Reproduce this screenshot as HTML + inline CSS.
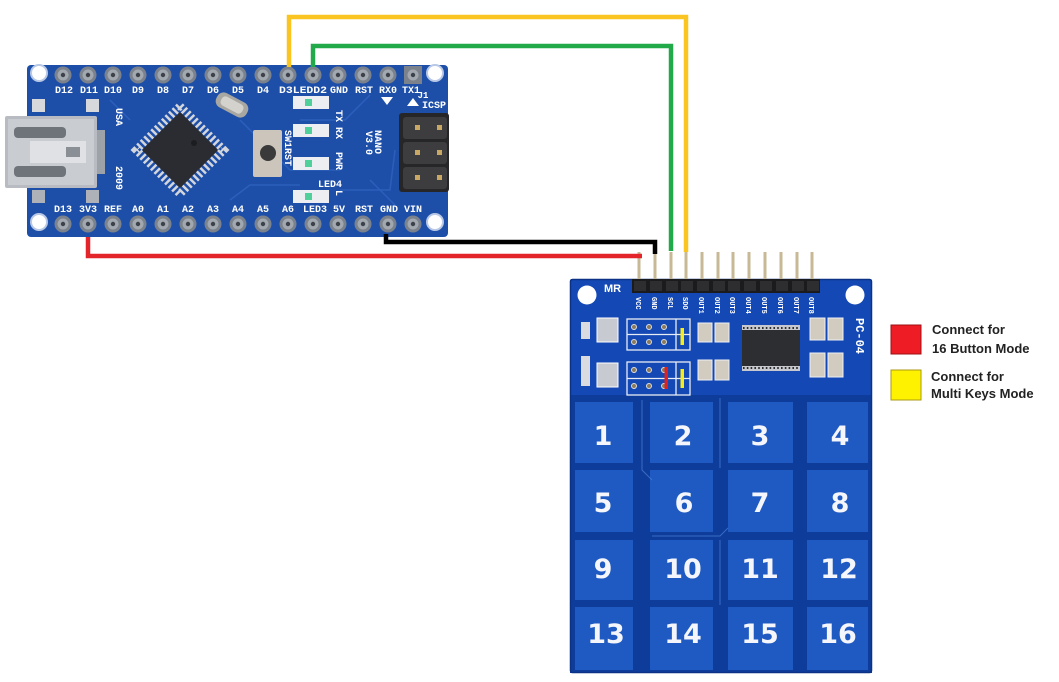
<!DOCTYPE html>
<html><head><meta charset="utf-8"><style>
html,body{margin:0;padding:0;background:#fff;}
svg{display:block;}
.w{fill:#fff;font-family:"Liberation Mono","DejaVu Sans Mono",monospace;font-weight:bold;}
.n{fill:#f4f6fb;font-family:"DejaVu Sans",sans-serif;font-weight:bold;font-size:27px;text-anchor:middle;}
.lg{fill:#222;font-family:"Liberation Sans",sans-serif;font-weight:bold;font-size:13px;}
</style></head><body>
<svg width="1059" height="682" viewBox="0 0 1059 682" xmlns="http://www.w3.org/2000/svg">
<rect width="1059" height="682" fill="#fff"/>

<!-- ================= ARDUINO NANO ================= -->
<rect x="27" y="65" width="421" height="172" rx="4" fill="#1e4fa8"/>
<g stroke="#2f64c0" stroke-width="1.5" fill="none" opacity="0.8">
  <path d="M240 120 L290 170 L340 170"/>
  <path d="M300 120 L345 120 L370 95"/>
  <path d="M340 190 L390 190 L395 150"/>
  <path d="M230 200 L250 185 L300 185"/>
  <path d="M110 100 L130 120"/>
  <path d="M370 180 L395 205"/>
</g>
<!-- USB pads -->
<rect x="32" y="99" width="13" height="13" fill="#d6d8dc"/>
<rect x="86" y="99" width="13" height="13" fill="#d6d8dc"/>
<rect x="32" y="190" width="13" height="13" fill="#aeb2b8"/>
<rect x="86" y="190" width="13" height="13" fill="#aeb2b8"/>
<!-- USB connector -->
<rect x="5" y="116" width="92" height="72" rx="2" fill="#b8bbc1"/>
<rect x="8" y="119" width="86" height="66" fill="#c9ccd1"/>
<rect x="14" y="127" width="52" height="11" rx="4" fill="#6f737a"/>
<rect x="14" y="166" width="52" height="11" rx="4" fill="#6f737a"/>
<rect x="30" y="141" width="56" height="22" fill="#dfe1e4"/>
<rect x="66" y="147" width="14" height="10" fill="#8a8e95"/>
<rect x="97" y="130" width="8" height="44" fill="#9da1a8"/>
<!-- chip -->
<g transform="translate(180,150) rotate(45)">
  <rect x="-31" y="-31" width="62" height="62" fill="none" stroke="#d3d6dc" stroke-width="8" stroke-dasharray="2.5 2.5"/>
  <rect x="-27" y="-27" width="54" height="54" rx="2" fill="#2a2c31"/>
</g>
<circle cx="194" cy="143" r="3" fill="#1c1d20"/>
<!-- crystal -->
<g transform="translate(232,105) rotate(28)">
  <rect x="-17" y="-8" width="34" height="16" rx="7" fill="#a9a7a1"/>
  <rect x="-12" y="-5" width="24" height="10" rx="4" fill="#d4d2cc"/>
</g>
<!-- reset button -->
<rect x="253" y="130" width="29" height="47" rx="2" fill="#cbc5bb"/>
<circle cx="268" cy="153" r="8" fill="#3a3a3a"/>
<!-- LEDs -->
<g fill="#eceef2">
  <rect x="293" y="96" width="36" height="13"/>
  <rect x="293" y="124" width="36" height="13"/>
  <rect x="293" y="157" width="36" height="13"/>
  <rect x="293" y="190" width="36" height="13"/>
</g>
<g fill="#4fcf9a">
  <rect x="305" y="99" width="7" height="7"/>
  <rect x="305" y="127" width="7" height="7"/>
  <rect x="305" y="160" width="7" height="7"/>
  <rect x="305" y="193" width="7" height="7"/>
</g>
<!-- ICSP header -->
<rect x="399" y="113" width="50" height="79" rx="3" fill="#262628"/>
<g fill="#3d3d40">
  <rect x="403" y="117" width="44" height="22" rx="3"/>
  <rect x="403" y="142" width="44" height="22" rx="3"/>
  <rect x="403" y="167" width="44" height="22" rx="3"/>
</g>
<g fill="#c9a864">
  <rect x="415" y="125" width="5" height="5"/><rect x="437" y="125" width="5" height="5"/>
  <rect x="415" y="150" width="5" height="5"/><rect x="437" y="150" width="5" height="5"/>
  <rect x="415" y="175" width="5" height="5"/><rect x="437" y="175" width="5" height="5"/>
</g>
<!-- corner holes -->
<g fill="#fff" stroke="#b8c8e6" stroke-width="2">
  <circle cx="39" cy="73" r="8"/><circle cx="435" cy="73" r="8"/>
  <circle cx="39" cy="222" r="8"/><circle cx="435" cy="222" r="8"/>
</g>
<!-- pins -->
<g>
  <g fill="#7b828c">
    <circle cx="63" cy="75" r="8.5"/><circle cx="88" cy="75" r="8.5"/><circle cx="113" cy="75" r="8.5"/><circle cx="138" cy="75" r="8.5"/><circle cx="163" cy="75" r="8.5"/><circle cx="188" cy="75" r="8.5"/><circle cx="213" cy="75" r="8.5"/><circle cx="238" cy="75" r="8.5"/><circle cx="263" cy="75" r="8.5"/><circle cx="288" cy="75" r="8.5"/><circle cx="313" cy="75" r="8.5"/><circle cx="338" cy="75" r="8.5"/><circle cx="363" cy="75" r="8.5"/><circle cx="388" cy="75" r="8.5"/>
    <circle cx="63" cy="224" r="8.5"/><circle cx="88" cy="224" r="8.5"/><circle cx="113" cy="224" r="8.5"/><circle cx="138" cy="224" r="8.5"/><circle cx="163" cy="224" r="8.5"/><circle cx="188" cy="224" r="8.5"/><circle cx="213" cy="224" r="8.5"/><circle cx="238" cy="224" r="8.5"/><circle cx="263" cy="224" r="8.5"/><circle cx="288" cy="224" r="8.5"/><circle cx="313" cy="224" r="8.5"/><circle cx="338" cy="224" r="8.5"/><circle cx="363" cy="224" r="8.5"/><circle cx="388" cy="224" r="8.5"/><circle cx="413" cy="224" r="8.5"/>
  </g>
  <rect x="404" y="66" width="18" height="18" fill="#7b828c"/>
  <g fill="#a2a8b0">
    <circle cx="63" cy="75" r="5.5"/><circle cx="88" cy="75" r="5.5"/><circle cx="113" cy="75" r="5.5"/><circle cx="138" cy="75" r="5.5"/><circle cx="163" cy="75" r="5.5"/><circle cx="188" cy="75" r="5.5"/><circle cx="213" cy="75" r="5.5"/><circle cx="238" cy="75" r="5.5"/><circle cx="263" cy="75" r="5.5"/><circle cx="288" cy="75" r="5.5"/><circle cx="313" cy="75" r="5.5"/><circle cx="338" cy="75" r="5.5"/><circle cx="363" cy="75" r="5.5"/><circle cx="388" cy="75" r="5.5"/><circle cx="413" cy="75" r="5.5"/>
    <circle cx="63" cy="224" r="5.5"/><circle cx="88" cy="224" r="5.5"/><circle cx="113" cy="224" r="5.5"/><circle cx="138" cy="224" r="5.5"/><circle cx="163" cy="224" r="5.5"/><circle cx="188" cy="224" r="5.5"/><circle cx="213" cy="224" r="5.5"/><circle cx="238" cy="224" r="5.5"/><circle cx="263" cy="224" r="5.5"/><circle cx="288" cy="224" r="5.5"/><circle cx="313" cy="224" r="5.5"/><circle cx="338" cy="224" r="5.5"/><circle cx="363" cy="224" r="5.5"/><circle cx="388" cy="224" r="5.5"/><circle cx="413" cy="224" r="5.5"/>
  </g>
  <g fill="#3c414a">
    <circle cx="63" cy="75" r="2.2"/><circle cx="88" cy="75" r="2.2"/><circle cx="113" cy="75" r="2.2"/><circle cx="138" cy="75" r="2.2"/><circle cx="163" cy="75" r="2.2"/><circle cx="188" cy="75" r="2.2"/><circle cx="213" cy="75" r="2.2"/><circle cx="238" cy="75" r="2.2"/><circle cx="263" cy="75" r="2.2"/><circle cx="288" cy="75" r="2.2"/><circle cx="313" cy="75" r="2.2"/><circle cx="338" cy="75" r="2.2"/><circle cx="363" cy="75" r="2.2"/><circle cx="388" cy="75" r="2.2"/><circle cx="413" cy="75" r="2.2"/>
    <circle cx="63" cy="224" r="2.2"/><circle cx="88" cy="224" r="2.2"/><circle cx="113" cy="224" r="2.2"/><circle cx="138" cy="224" r="2.2"/><circle cx="163" cy="224" r="2.2"/><circle cx="188" cy="224" r="2.2"/><circle cx="213" cy="224" r="2.2"/><circle cx="238" cy="224" r="2.2"/><circle cx="263" cy="224" r="2.2"/><circle cx="288" cy="224" r="2.2"/><circle cx="313" cy="224" r="2.2"/><circle cx="338" cy="224" r="2.2"/><circle cx="363" cy="224" r="2.2"/><circle cx="388" cy="224" r="2.2"/><circle cx="413" cy="224" r="2.2"/>
  </g>
</g>
<!-- labels -->
<g class="w" font-size="10" text-anchor="middle">
  <text x="64" y="93">D12</text><text x="89" y="93">D11</text><text x="113" y="93">D10</text><text x="138" y="93">D9</text>
  <text x="163" y="93">D8</text><text x="188" y="93">D7</text><text x="213" y="93">D6</text><text x="238" y="93">D5</text>
  <text x="263" y="93">D4</text><text x="303" y="93" textLength="48" lengthAdjust="spacingAndGlyphs">D3LEDD2</text>
  <text x="339" y="93">GND</text><text x="364" y="93">RST</text><text x="388" y="93">RX0</text><text x="411" y="93">TX1</text>
  <text x="63" y="212">D13</text><text x="88" y="212">3V3</text><text x="113" y="212">REF</text><text x="138" y="212">A0</text>
  <text x="163" y="212">A1</text><text x="188" y="212">A2</text><text x="213" y="212">A3</text><text x="238" y="212">A4</text>
  <text x="263" y="212">A5</text><text x="288" y="212">A6</text><text x="315" y="212">LED3</text><text x="339" y="212">5V</text>
  <text x="364" y="212">RST</text><text x="389" y="212">GND</text><text x="413" y="212">VIN</text>
  <text x="330" y="187">LED4</text>
  <text x="423" y="98" font-size="9">J1</text>
  <text x="434" y="108">ICSP</text>
</g>
<path d="M381 97 L393 97 L387 105 Z" fill="#fff"/>
<path d="M407 106 L419 106 L413 98 Z" fill="#fff"/>
<g class="w" font-size="10">
  <text transform="translate(336,110) rotate(90)">TX</text>
  <text transform="translate(336,127) rotate(90)">RX</text>
  <text transform="translate(336,152) rotate(90)">PWR</text>
  <text transform="translate(336,190) rotate(90)">L</text>
  <text transform="translate(285,130) rotate(90)">SW1RST</text>
  <text transform="translate(375,130) rotate(90)">NANO</text>
  <text transform="translate(366,131) rotate(90)">V3.0</text>
  <text transform="translate(116,108) rotate(90)">USA</text>
  <text transform="translate(116,166) rotate(90)">2009</text>
</g>

<!-- ================= KEYPAD ================= -->
<rect x="570" y="279" width="302" height="394" rx="2" fill="#1449b5"/>
<rect x="570" y="395" width="302" height="278" fill="#0e3c9b"/>
<rect x="570.5" y="279.5" width="301" height="393" rx="2" fill="none" stroke="#0b3285" stroke-width="1.5"/>
<circle cx="587" cy="295" r="9.5" fill="#fff"/>
<circle cx="855" cy="295" r="9.5" fill="#fff"/>
<text x="604" y="292" fill="#fff" font-family="Liberation Sans,sans-serif" font-weight="bold" font-size="11">MR</text>
<!-- header -->
<g stroke="#c7b896" stroke-width="3">
  <line x1="639" y1="252" x2="639" y2="282"/><line x1="655" y1="252" x2="655" y2="282"/><line x1="671" y1="252" x2="671" y2="282"/><line x1="686" y1="252" x2="686" y2="282"/>
  <line x1="702" y1="252" x2="702" y2="282"/><line x1="718" y1="252" x2="718" y2="282"/><line x1="733" y1="252" x2="733" y2="282"/><line x1="749" y1="252" x2="749" y2="282"/>
  <line x1="765" y1="252" x2="765" y2="282"/><line x1="781" y1="252" x2="781" y2="282"/><line x1="797" y1="252" x2="797" y2="282"/><line x1="812" y1="252" x2="812" y2="282"/>
</g>
<rect x="632" y="279" width="188" height="14" fill="#1b1b1d"/>
<g fill="#2e2e31">
  <rect x="634" y="281" width="12" height="10"/><rect x="650" y="281" width="12" height="10"/><rect x="666" y="281" width="12" height="10"/><rect x="681" y="281" width="12" height="10"/>
  <rect x="697" y="281" width="12" height="10"/><rect x="713" y="281" width="12" height="10"/><rect x="728" y="281" width="12" height="10"/><rect x="744" y="281" width="12" height="10"/>
  <rect x="760" y="281" width="12" height="10"/><rect x="776" y="281" width="12" height="10"/><rect x="792" y="281" width="12" height="10"/><rect x="807" y="281" width="12" height="10"/>
</g>
<g class="w" font-size="7" font-family="Liberation Sans,sans-serif">
  <text transform="translate(636,297) rotate(90)">VCC</text>
  <text transform="translate(652,297) rotate(90)">GND</text>
  <text transform="translate(668,297) rotate(90)">SCL</text>
  <text transform="translate(683,297) rotate(90)">SDO</text>
  <text transform="translate(699,297) rotate(90)">OUT1</text>
  <text transform="translate(715,297) rotate(90)">OUT2</text>
  <text transform="translate(730,297) rotate(90)">OUT3</text>
  <text transform="translate(746,297) rotate(90)">OUT4</text>
  <text transform="translate(762,297) rotate(90)">OUT5</text>
  <text transform="translate(778,297) rotate(90)">OUT6</text>
  <text transform="translate(794,297) rotate(90)">OUT7</text>
  <text transform="translate(809,297) rotate(90)">OUT8</text>
  <text transform="translate(856,318) rotate(90)" font-size="12">PC-04</text>
</g>
<!-- left components -->
<rect x="581" y="322" width="9" height="17" fill="#d9dbe0"/>
<rect x="581" y="356" width="9" height="30" fill="#d9dbe0"/>
<rect x="597" y="318" width="21" height="24" fill="#c7cad0" stroke="#fff" stroke-width="1"/>
<rect x="597" y="363" width="21" height="24" fill="#c7cad0" stroke="#fff" stroke-width="1"/>
<!-- jumper blocks -->
<g fill="none" stroke="#e8ecf4" stroke-width="1.3">
  <rect x="627" y="319" width="63" height="31"/>
  <rect x="627" y="362" width="63" height="33"/>
  <line x1="627" y1="334.5" x2="690" y2="334.5"/>
  <line x1="627" y1="378.5" x2="690" y2="378.5"/>
  <line x1="676" y1="319" x2="676" y2="350"/>
  <line x1="676" y1="362" x2="676" y2="395"/>
</g>
<g fill="#8a7a5c" stroke="#ddd" stroke-width="1">
  <circle cx="634" cy="327" r="2.5"/><circle cx="649" cy="327" r="2.5"/><circle cx="664" cy="327" r="2.5"/>
  <circle cx="634" cy="342" r="2.5"/><circle cx="649" cy="342" r="2.5"/><circle cx="664" cy="342" r="2.5"/>
  <circle cx="634" cy="370" r="2.5"/><circle cx="649" cy="370" r="2.5"/><circle cx="664" cy="370" r="2.5"/>
  <circle cx="634" cy="386" r="2.5"/><circle cx="649" cy="386" r="2.5"/><circle cx="664" cy="386" r="2.5"/>
</g>
<rect x="680.5" y="328" width="3.5" height="17" fill="#f5ec1a"/>
<rect x="680.5" y="369" width="3.5" height="19" fill="#f5ec1a"/>
<rect x="664.5" y="367" width="3.5" height="22" fill="#e02020"/>
<!-- caps -->
<g fill="#d2ccc0" stroke="#eef0f4" stroke-width="1">
  <rect x="698" y="323" width="14" height="19"/><rect x="715" y="323" width="14" height="19"/>
  <rect x="698" y="360" width="14" height="20"/><rect x="715" y="360" width="14" height="20"/>
  <rect x="810" y="318" width="15" height="22"/><rect x="828" y="318" width="15" height="22"/>
  <rect x="810" y="353" width="15" height="24"/><rect x="828" y="353" width="15" height="24"/>
</g>
<!-- chip -->
<rect x="742" y="325" width="58" height="46" fill="#c7c9ce"/>
<rect x="742" y="330" width="58" height="36" fill="#2d2e31"/>
<g stroke="#2d2e31" stroke-width="2" stroke-dasharray="1.6 2.2">
  <line x1="743" y1="328" x2="800" y2="328"/><line x1="743" y1="368" x2="800" y2="368"/>
</g>
<!-- buttons -->
<g fill="#1f5ac2">
  <rect x="575" y="402" width="58" height="61"/><rect x="650" y="402" width="63" height="61"/><rect x="728" y="402" width="65" height="61"/><rect x="807" y="402" width="61" height="61"/>
  <rect x="575" y="470" width="58" height="62"/><rect x="650" y="470" width="63" height="62"/><rect x="728" y="470" width="65" height="62"/><rect x="807" y="470" width="61" height="62"/>
  <rect x="575" y="540" width="58" height="60"/><rect x="650" y="540" width="63" height="60"/><rect x="728" y="540" width="65" height="60"/><rect x="807" y="540" width="61" height="60"/>
  <rect x="575" y="607" width="58" height="63"/><rect x="650" y="607" width="63" height="63"/><rect x="728" y="607" width="65" height="63"/><rect x="807" y="607" width="61" height="63"/>
</g>
<g stroke="#4a7fd6" stroke-width="1" fill="none" opacity="0.7">
  <path d="M642 400 L642 470 L652 480"/>
  <path d="M720 398 L720 468"/>
  <path d="M652 536 L720 536 L728 528"/>
  <path d="M720 540 L720 605"/>
</g>
<g class="n">
  <text x="603" y="445">1</text><text x="683" y="445">2</text><text x="760" y="445">3</text><text x="840" y="445">4</text>
  <text x="603" y="512">5</text><text x="684" y="512">6</text><text x="760" y="512">7</text><text x="840" y="512">8</text>
  <text x="603" y="578">9</text><text x="683" y="578">10</text><text x="760" y="578">11</text><text x="839" y="578">12</text>
  <text x="606" y="643">13</text><text x="683" y="643">14</text><text x="760" y="643">15</text><text x="838" y="643">16</text>
</g>

<!-- ================= WIRES ================= -->
<g fill="none" stroke-width="4.5" stroke-linecap="butt" stroke-linejoin="miter">
  <path d="M289 67 L289 17 L686 17 L686 252" stroke="#fbc521"/>
  <path d="M313 67 L313 46 L671 46 L671 251" stroke="#22a94a"/>
  <path d="M386 234 L386 242 L655 242 L655 254" stroke="#000"/>
  <path d="M88 237 L88 256 L642 256" stroke="#e3242b"/>
</g>

<!-- ================= LEGEND ================= -->
<rect x="891" y="325" width="30" height="29" fill="#ee1c24" stroke="#9c1015" stroke-width="1"/>
<rect x="891" y="370" width="30" height="30" fill="#fff200" stroke="#a89a10" stroke-width="1"/>
<text class="lg" x="932" y="334">Connect for</text>
<text class="lg" x="932" y="353">16 Button Mode</text>
<text class="lg" x="931" y="381">Connect for</text>
<text class="lg" x="931" y="398">Multi Keys Mode</text>
</svg>
</body></html>
